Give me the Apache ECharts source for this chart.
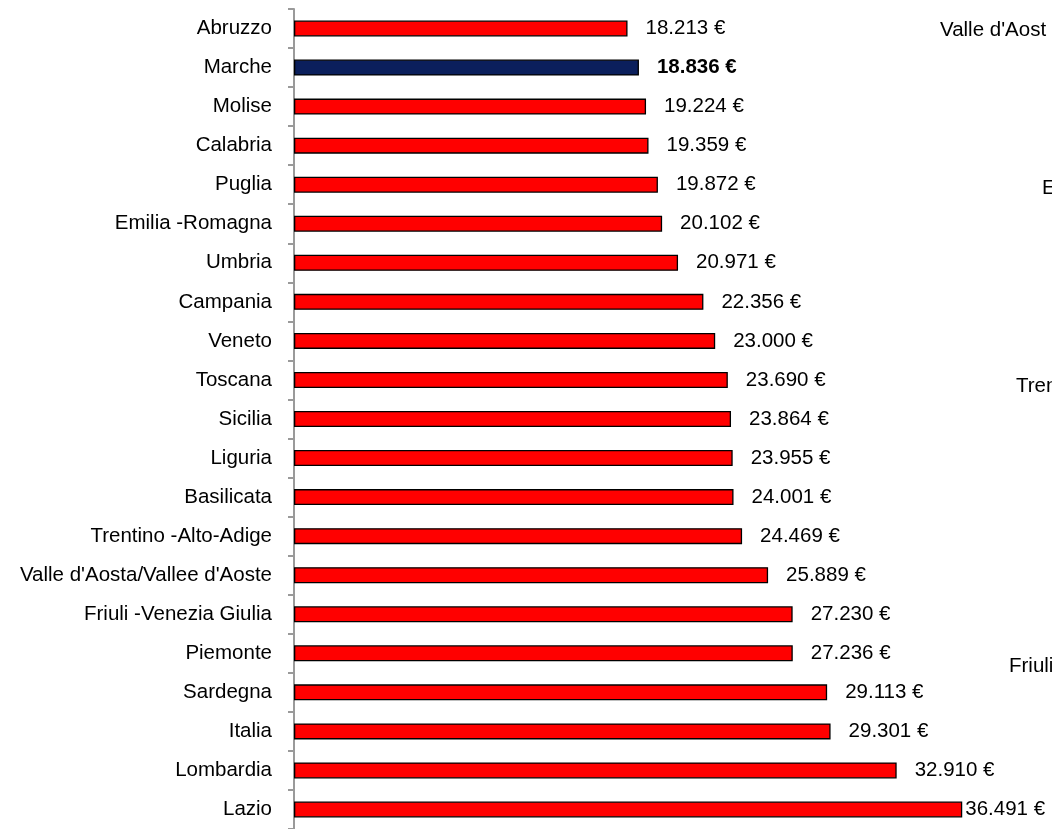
<!DOCTYPE html>
<html>
<head>
<meta charset="utf-8">
<script src="https://cdn.jsdelivr.net/npm/echarts@6/dist/echarts.min.js"></script>
<style>html,body{margin:0;padding:0;background:#fff}#c{width:1052px;height:829px}</style>
</head>
<body>
<div id="c"></div>
<script>
const categories = ["Abruzzo","Marche","Molise","Calabria","Puglia","Emilia -Romagna","Umbria","Campania","Veneto","Toscana","Sicilia","Liguria","Basilicata","Trentino -Alto-Adige","Valle d'Aosta/Vallee d'Aoste","Friuli -Venezia Giulia","Piemonte","Sardegna","Italia","Lombardia","Lazio"];
const values = [18213,18836,19224,19359,19872,20102,20971,22356,23000,23690,23864,23955,24001,24469,25889,27230,27236,29113,29301,32910,36491];
const highlight = "Marche";
const strayLabels = ["Valle d'Aost","E","Tren","Friuli"];

const FONT = '"Liberation Sans", Arial, sans-serif';
const FS = 20.5;
const fmt = v => v.toLocaleString('de-DE') + ' €';

const data = values.map((v, i) => {
  const item = { value: v };
  if (categories[i] === highlight) {
    item.itemStyle = { color: '#0b1f5c' };
    item.label = { fontWeight: 'bold' };
  }
  if (i === values.length - 1) {
    item.label = { distance: 3 };
  }
  return item;
});

const strayPos = [[940,31],[1042,189],[1016,387],[1009,667]];

const chart = echarts.init(document.getElementById('c'));
chart.setOption({
  animation: false,
  backgroundColor: '#fff',
  grid: { left: 294, top: 9, width: 732.5, height: 824.3, containLabel: false },
  xAxis: {
    type: 'value', min: 0, max: 40000,
    show: false
  },
  yAxis: {
    type: 'category', data: categories, inverse: true,
    axisLine: { lineStyle: { color: '#9a9a9a', width: 2 } },
    axisTick: { show: true, length: 6, lineStyle: { color: '#9a9a9a', width: 2 } },
    axisLabel: { color: '#000', fontFamily: FONT, fontSize: FS, margin: 22 },
    splitLine: { show: false }
  },
  series: [{
    type: 'bar', data: data, barWidth: 16,
    itemStyle: { color: '#ff0000', borderColor: '#000', borderWidth: 1.3 },
    label: {
      show: true, position: 'right', distance: 18,
      color: '#000', fontFamily: FONT, fontSize: FS,
      formatter: p => fmt(p.value)
    }
  }],
  graphic: strayLabels.map((t, i) => ({
    type: 'text', left: strayPos[i][0], top: strayPos[i][1] - 11,
    style: { text: t, fill: '#000', font: FS + 'px ' + FONT }
  }))
});
</script>
</body>
</html>
